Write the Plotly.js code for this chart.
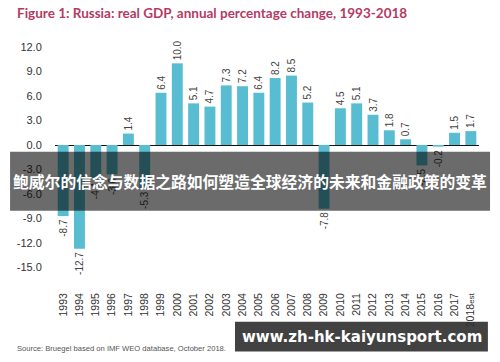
<!DOCTYPE html>
<html>
<head>
<meta charset="utf-8">
<script src="https://cdn.plot.ly/plotly-3.0.1.min.js"></script>
<style>
html,body{margin:0;padding:0;background:#fff;}
#chart{width:500px;height:362px;}
</style>
</head>
<body>
<div id="chart"></div>
<script>
var years = ['1993','1994','1995','1996','1997','1998','1999','2000','2001','2002','2003','2004','2005','2006','2007','2008','2009','2010','2011','2012','2013','2014','2015','2016','2017','2018'];
var gdpGrowth = [-8.7,-12.7,-4.1,-3.6,1.4,-5.3,6.4,10.0,5.1,4.7,7.3,7.2,6.4,8.2,8.5,5.2,-7.8,4.5,5.1,3.7,1.8,0.7,-2.5,-0.2,1.5,1.7];
var tickLabels = ['1993','1994','1995','1996','1997','1998','1999','2000','2001','2002','2003','2004','2005','2006','2007','2008','2009','2010','2011','2012','2013','2014','2015','2016','2017','2018<span style="font-size:8px">est</span>'];
var yTicks = [12,9,6,3,0,-3,-6,-9,-12,-15];
var titleText = 'Figure 1: Russia: real GDP, annual percentage change, 1993-2018';
var sourceText = 'Source: Bruegel based on IMF WEO database, October 2018.';
var bannerText = '鲍威尔的信念与数据之路如何塑造全球经济的未来和金融政策的变革';
var watermarkText = 'www.zh-hk-kaiyunsport.com';

var trace = {
  type: 'bar',
  x: years,
  y: gdpGrowth,
  marker: {color: '#58bdd0'},
  text: gdpGrowth.map(function(v){return v.toFixed(1);}),
  textposition: 'outside',
  textangle: -90,
  constraintext: 'none',
  cliponaxis: false,
  textfont: {family: 'Liberation Sans, Arial, sans-serif', size: 10, color: '#444'},
  hoverinfo: 'none'
};

var layout = {
  width: 500, height: 362,
  margin: {l: 55, r: 21, t: 27, b: 82, pad: 0},
  paper_bgcolor: '#fff', plot_bgcolor: '#fff',
  showlegend: false,
  bargap: 0.33,
  xaxis: {
    type: 'category',
    tickvals: years, ticktext: tickLabels,
    tickangle: -90,
    tickfont: {family: 'Liberation Sans, Arial, sans-serif', size: 10.5, color: '#333'},
    showgrid: false, showline: false, zeroline: false,
    ticks: 'outside', ticklen: 8, tickcolor: 'rgba(0,0,0,0)',
    range: [-0.5, 25.5], fixedrange: true
  },
  yaxis: {
    range: [-16.53, 14.45],
    tickvals: yTicks,
    ticktext: yTicks.map(function(v){return v.toFixed(1);}),
    tickfont: {family: 'Liberation Sans, Arial, sans-serif', size: 11, color: '#333'},
    showgrid: false, showline: false,
    zeroline: true, zerolinecolor: '#111', zerolinewidth: 1,
    ticks: 'outside', ticklen: 10, tickcolor: 'rgba(0,0,0,0)',
    fixedrange: true
  },
  shapes: [
    {type: 'rect', xref: 'paper', yref: 'paper', x0: -0.106, x1: 1.026, y0: 0.274, y1: 0.507,
     fillcolor: 'rgba(0,0,0,0.58)', line: {width: 0}, layer: 'above'},
    {type: 'rect', xref: 'paper', yref: 'paper', x0: 0.4245, x1: 1.021, y0: -0.283, y1: -0.165,
     fillcolor: 'rgba(45,45,45,0.9)', line: {width: 0}, layer: 'above'}
  ],
  annotations: [
    {xref: 'paper', yref: 'paper', x: -0.0943, y: 1.055, xanchor: 'left', yanchor: 'middle',
     text: '<b>' + titleText + '</b>', showarrow: false,
     font: {family: 'Lato, Liberation Sans, sans-serif', size: 13.5, color: '#b43a64'}},
    {xref: 'paper', yref: 'paper', x: -0.0943, y: -0.269, xanchor: 'left', yanchor: 'middle',
     text: sourceText, showarrow: false,
     font: {family: 'Liberation Sans, Arial, sans-serif', size: 7.6, color: '#555'}},
    {xref: 'paper', yref: 'paper', x: 0.46, y: 0.391, xanchor: 'center', yanchor: 'middle',
     text: '<b>' + bannerText + '</b>', showarrow: false,
     font: {family: 'Noto Sans CJK SC, sans-serif', size: 15.8, color: '#fff'}},
    {xref: 'paper', yref: 'paper', x: 0.723, y: -0.225, xanchor: 'center', yanchor: 'middle',
     text: '<b>' + watermarkText + '</b>', showarrow: false,
     font: {family: 'DejaVu Sans, sans-serif', size: 15, color: '#fff'}}
  ]
};

Plotly.newPlot('chart', [trace], layout, {staticPlot: true, displayModeBar: false});
</script>
</body>
</html>
